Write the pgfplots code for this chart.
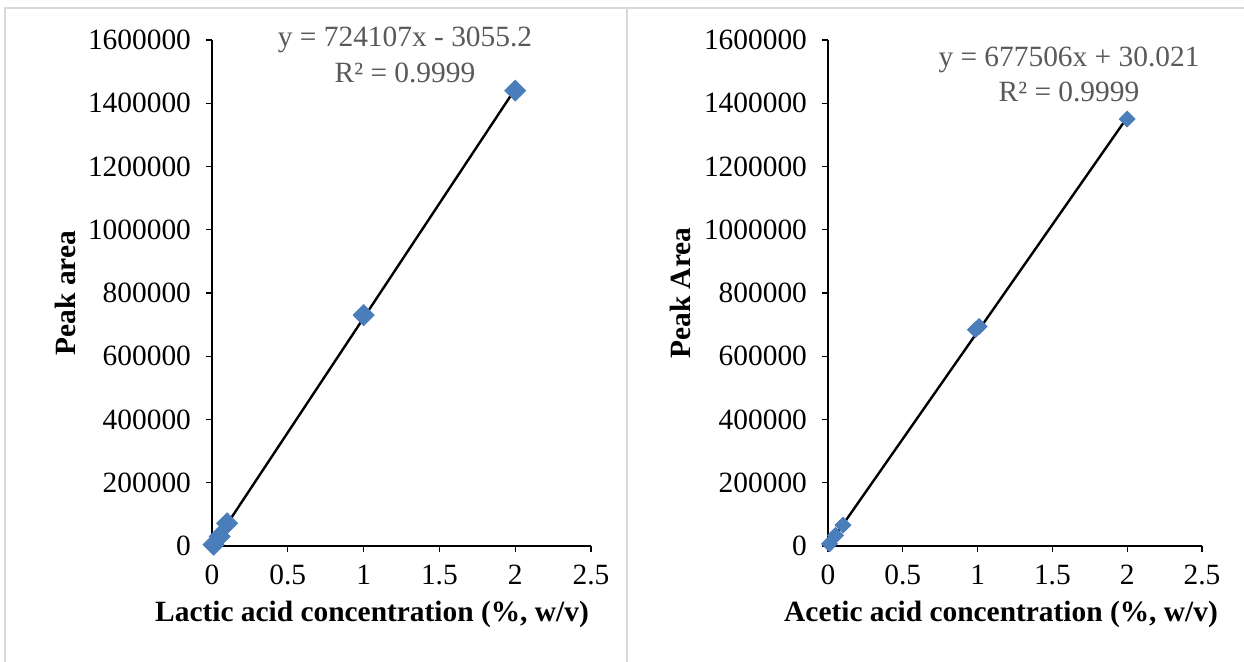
\documentclass[border=0pt]{standalone}
\usepackage{fontspec}
\setmainfont{Liberation Serif}
\usepackage{pgfplots}
\pgfplotsset{compat=1.18}
\definecolor{mk}{HTML}{4A7EBB}
\definecolor{eq}{HTML}{595959}
\definecolor{bd}{HTML}{D9D9D9}
\pgfplotsset{myax/.style={
  scale only axis, height=253pt,
  xmin=0,xmax=2.5,ymin=0,ymax=1600000,
  axis x line*=bottom, axis y line*=left,
  xtick={0,0.5,1,1.5,2,2.5}, ytick={0,200000,400000,600000,800000,1000000,1200000,1400000,1600000},
  scaled ticks=false,
  yticklabel style={/pgf/number format/fixed,/pgf/number format/1000 sep={},xshift=-4pt},
  xticklabel style={/pgf/number format/fixed,yshift=-3pt},
  tick align=outside, major tick length=3pt,
  tick style={black, line width=0.6pt},
  axis line style={black, line width=0.6pt},
  ticklabel style={font=\fontsize{14.7}{16}\selectfont},
  /pgf/number format/assume math mode=true,
  clip=false,
}}
\begin{document}
\begin{tikzpicture}[x=1pt,y=1pt]
\useasboundingbox (0,0) rectangle (622,331);
\draw[bd, line width=0.8pt] (2.5,0) -- (2.5,327) -- (622,327);
\draw[bd, line width=0.8pt] (313.5,0) -- (313.5,327);
% left
\begin{axis}[myax, width=189.5pt, at={(106pt,58pt)}, anchor=south west]
\addplot[only marks, mark=square*, mark size=3.7pt, mark options={rotate=45, fill=mk, draw=mk}]
  coordinates {(0.01,4000) (0.05,30000) (0.1,72000) (1,730000) (2,1440000)};
\addplot[black, line width=1.2pt] coordinates {(0.01,4186) (2,1445159)};
\end{axis}
% right
\begin{axis}[myax, width=187pt, at={(414pt,58pt)}, anchor=south west]
\addplot[only marks, mark=square*, mark size=2.8pt, mark options={rotate=45, fill=mk, draw=mk}]
  coordinates {(0.01,7000) (0.05,33500) (0.1,66000) (0.985,684000) (1.01,694000) (2,1350000)};
\addplot[black, line width=1.2pt] coordinates {(0.01,6805) (2,1355042)};
\end{axis}
\begin{scope}[every node/.style={font=\fontsize{14.7}{16}\selectfont, inner sep=0pt}]
\node[eq] at (202.5,311) {y = 724107x - 3055.2};
\node[eq] at (202.5,294.5) {R² = 0.9999};
\node[eq] at (534.5,301) {y = 677506x + 30.021};
\node[eq] at (534.5,285) {R² = 0.9999};
\node[rotate=90, font=\fontsize{14.7}{16}\selectfont\bfseries] at (32.5,184.5) {Peak area};
\node[rotate=90, font=\fontsize{14.7}{16}\selectfont\bfseries] at (340,184.5) {Peak Area};
\node[font=\fontsize{14.7}{16}\selectfont\bfseries] at (186,24) {Lactic acid concentration (\%, w/v)};
\node[font=\fontsize{14.7}{16}\selectfont\bfseries] at (500.5,24) {Acetic acid concentration (\%, w/v)};
\end{scope}
\end{tikzpicture}
\end{document}
